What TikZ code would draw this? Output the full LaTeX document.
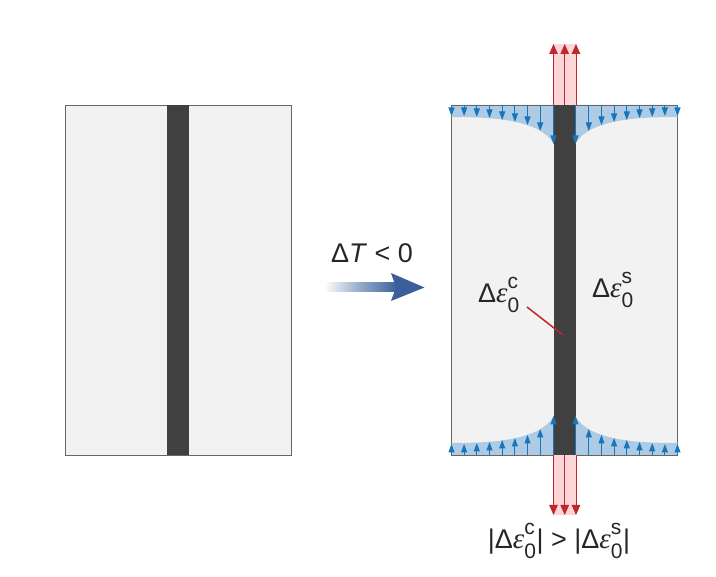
\documentclass[tikz,border=0pt]{standalone}
\usepackage{fontspec}
\setmainfont{Liberation Sans}
\newfontfamily\epsfont{Liberation Serif}
\usepackage{xcolor}
\usetikzlibrary{arrows.meta}

\definecolor{panelgray}{HTML}{F2F2F3}
\definecolor{bardark}{HTML}{404040}
\definecolor{edgegray}{HTML}{666666}
\definecolor{zoneblue}{HTML}{AECBE6}
\definecolor{tipblue}{HTML}{1A74B8}
\definecolor{bandpink}{HTML}{FBD5D8}
\definecolor{tipred}{HTML}{C0272D}
\definecolor{flowblue}{HTML}{3A5F9A}

% sizes for the strain labels
\DeclareMathSizes{27}{27}{19}{14}
\newcommand{\subfont}{\fontsize{21}{21}\selectfont}
\newcommand{\deps}[1]{Δ{\epsfont\itshape\fontsize{29}{29}\selectfont ε}$^{\raisebox{5pt}{\subfont #1}}_{\raisebox{-4pt}{\subfont 0}}$}

\tikzset{
  panel/.style={draw=edgegray, line width=0.9pt, fill=panelgray},
  core/.style={fill=bardark},
  zone/.style={fill=zoneblue},
  band/.style={fill=bandpink},
  bluearrow/.style={-{Triangle[length=8.5pt,width=6pt]}, tipblue, line width=1pt},
  redarrow/.style={-{Triangle[length=10pt,width=8.5pt]}, tipred, line width=1pt},
  label/.style={inner sep=0pt, text=black!85, font=\fontsize{27}{27}\selectfont}
}

\begin{document}
\begin{tikzpicture}[x=1pt, y=-1pt]
\useasboundingbox (0,0) rectangle (716,577);

% left panel, before cooling
\draw[panel] (65,105) rectangle (291,455);
\fill[core] (167,105) rectangle (189,455);

% right panel, after cooling
\draw[panel] (451,105) rectangle (677,455);

% blue zones in the four corners, drawn from the panel centre
\foreach \fx/\fy in {1/1,-1/1,1/-1,-1/-1} {
  \begin{scope}[shift={(564.5,280)}, xscale=\fx, yscale=\fy]
    \fill[zone] (-113,-175) -- (-113,-163) .. controls (-74.5,-163) and (-26.5,-161) .. (-11,-137) -- (-11,-175) -- cycle;
    \draw[edgegray, line width=0.9pt] (-113,-175) -- (-11,-175);
  \end{scope}
}

% pink bands above and below the core
\fill[band] (553.5,44) rectangle (576,105);
\fill[band] (553.5,455) rectangle (576,515);
\fill[core] (553.5,105) rectangle (576,455);

% blue arrows: offset from centre / length
\foreach \fx/\fy in {1/1,-1/1,1/-1,-1/-1} {
  \begin{scope}[shift={(564.5,280)}, xscale=\fx, yscale=\fy]
    \foreach \dx/\len in {113/11,100.4/11,87.7/12,75/13,62.3/15,49.6/17,37/20,24.3/26,11/39} {
      \coordinate (bs) at (-\dx,-175);
      \coordinate (be) at (-\dx,-175+\len);
      \draw[bluearrow] (bs) -- (be);
    }
  \end{scope}
}

% red arrows
\foreach \x in {553.5,564.7,576} {
  \coordinate (rt) at (\x,105);
  \coordinate (rtend) at (\x,44);
  \coordinate (rb) at (\x,455);
  \coordinate (rbend) at (\x,515);
  \draw[redarrow] (rt) -- (rtend);
  \draw[redarrow] (rb) -- (rbend);
}

% cooling arrow
\shade[left color=white, right color=flowblue, middle color=flowblue!55] (324,283) rectangle (398,292);
\fill[flowblue] (391,273) -- (424.5,287.5) -- (391,301) -- (396,287.5) -- cycle;

% labels
\node[label] (dt) at (372,253) {Δ\textit{T} < 0};
\node[label] (epsc) at (499,295) {\deps{c}};
\node[label] (epss) at (613,290) {\deps{s}};
\node[label] (cmp) at (559,541) {|\deps{c}| > |\deps{s}|};

% leader from label into the core
\coordinate (leadstart) at (527,307);
\coordinate (leadend) at (563,335);
\draw[tipred, line width=1.5pt] (leadstart) -- (leadend);
\end{tikzpicture}
\end{document}
